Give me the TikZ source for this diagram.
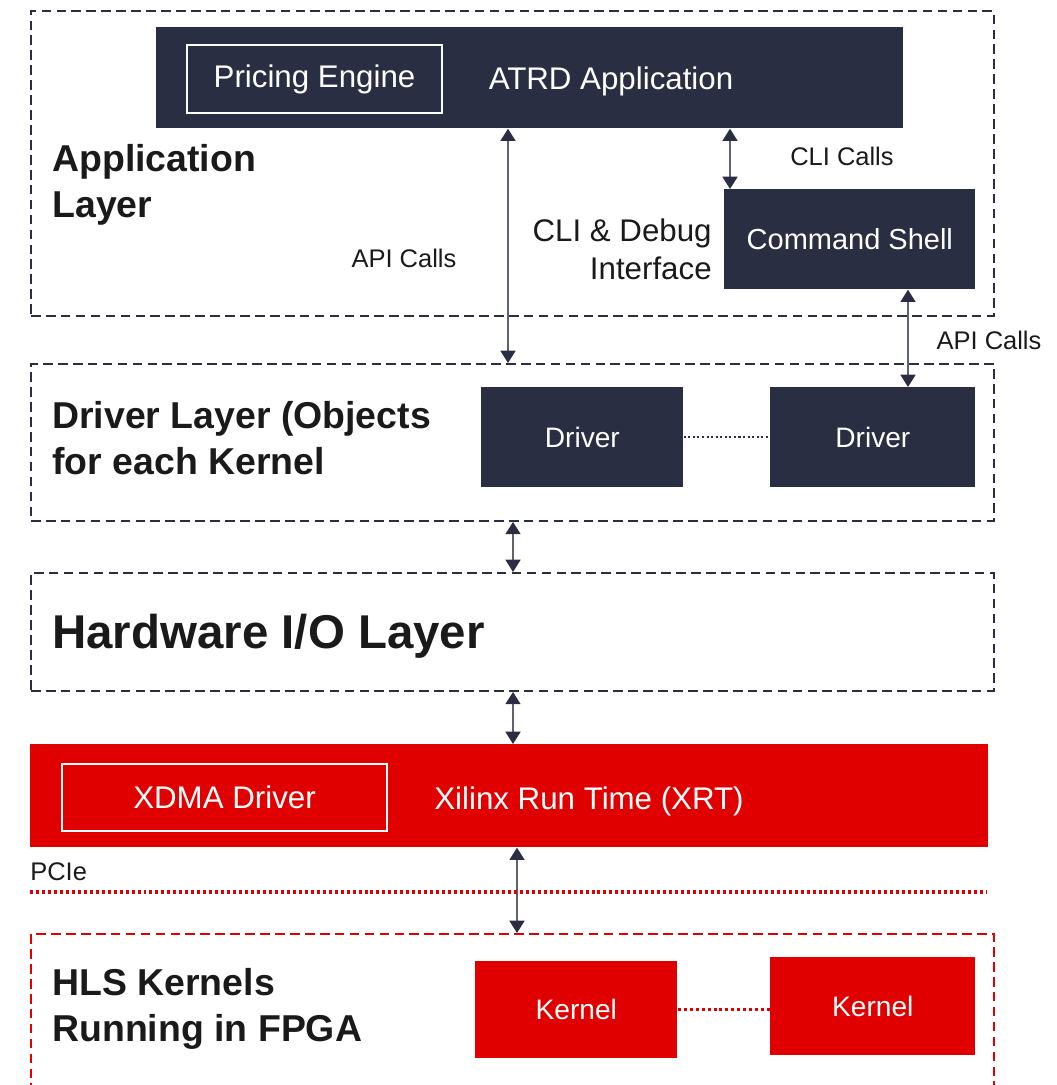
\documentclass[tikz,border=0pt]{standalone}
\usepackage{fontspec}
\setmainfont{Liberation Sans}
\usepackage{tikz}
\usetikzlibrary{arrows.meta,positioning,calc}

\definecolor{navy}{HTML}{2A2E42}
\definecolor{xred}{HTML}{E10000}
\definecolor{shaft}{HTML}{5E6272}
\definecolor{ink}{HTML}{1A1A1A}

\tikzset{
  layer/.style={draw=navy,line width=1.1pt,dash pattern=on 5.5pt off 3pt,anchor=north west,minimum width=19.26cm,inner sep=0pt},
  redlayer/.style={layer,draw=xred},
  darkbox/.style={fill=navy,text=white,anchor=north west,inner sep=0pt,font=\fontsize{16.5}{20}\selectfont},
  redbox/.style={darkbox,fill=xred},
  innerbox/.style={draw=white,line width=1.2pt,text=white,anchor=north west,inner sep=0pt,font=\fontsize{17.8}{21}\selectfont},
  boxtext/.style={text=white,inner sep=0pt,font=\fontsize{17.8}{21}\selectfont},
  title/.style={anchor=west,align=left,inner sep=0pt,text=ink,font=\fontsize{21.3}{26}\selectfont\bfseries},
  lbl/.style={inner sep=0pt,text=ink,font=\fontsize{14.5}{17}\selectfont},
  io/.style={arrows={Triangle[length=7pt,width=8.5pt,color=navy]-Triangle[length=7pt,width=8.5pt,color=navy]},draw=shaft,line width=1.1pt},
  link/.style={draw=navy,line width=1pt,dash pattern=on 1.2pt off 1.4pt},
  redlink/.style={draw=xred,line width=1.8pt,dash pattern=on 1.7pt off 1.7pt}
}

\begin{document}
\begin{tikzpicture}[x=0.02cm,y=-0.02cm]
\useasboundingbox (0,0) rectangle (1056,1085);
\clip (0,0) rectangle (1056,1085);

% application layer
\node[layer,minimum height=6.1cm] (applayer) at (30,10) {};
\node[darkbox,minimum width=14.94cm,minimum height=2.02cm] (atrd) at (156,27) {};
\node[innerbox,minimum width=5.1cm,minimum height=1.36cm] (engine) at (186,44) {\raisebox{-1.5pt}{Pricing Engine}};
\node[boxtext] (atrdtext) at (611,81) {ATRD Application};
\node[darkbox,minimum width=5.02cm,minimum height=2cm] (shell) at (724,189) {Command Shell};
\node[title] (apptitle) at (52,185) {Application\\Layer};
\node[lbl] (apicalls) at (404,258) {API Calls};
\node[lbl] (clicalls) at (842,156) {CLI Calls};
\node[boxtext,text=ink,anchor=east,align=right,font=\fontsize{17.8}{21.5}\selectfont] (cli) at (712,249) {CLI \& Debug\\Interface};
\node[lbl] (apicalls2) at (989,340) {API Calls};

% driver layer
\node[layer,minimum height=3.14cm] (drvlayer) at (30,363) {};
\node[title] (drvtitle) at (52,438) {Driver Layer (Objects\\for each Kernel};
\node[darkbox,font=\fontsize{16}{19}\selectfont,minimum width=4.04cm,minimum height=2cm] (drvA) at (481,387) {Driver};
\node[darkbox,font=\fontsize{16}{19}\selectfont,minimum width=4.1cm,minimum height=2cm] (drvB) at (770,387) {Driver};

% hardware layer
\node[layer,minimum height=2.36cm] (hwlayer) at (30,572) {};
\node[title,font=\fontsize{27}{32}\selectfont\bfseries] (hwtitle) at (52,636) {Hardware I/O Layer};

% xrt
\node[redbox,minimum width=19.16cm,minimum height=2.06cm] (xrt) at (30,744) {};
\node[innerbox,minimum width=6.5cm,minimum height=1.34cm] (xdma) at (61,763) {\raisebox{-1.5pt}{XDMA Driver}};
\node[boxtext] (xrttext) at (589,801) {Xilinx Run Time (XRT)};
\node[lbl,anchor=west] (pcie) at (30,872) {PCIe};
\coordinate (pcieL) at (30,892);
\coordinate (pcieR) at (986,892);

% fpga
\node[redlayer,minimum height=3.6cm] (hlslayer) at (30,933) {};
\node[title] (hlstitle) at (52,1009) {HLS Kernels\\Running in FPGA};
\node[redbox,font=\fontsize{16}{19}\selectfont,minimum width=4.04cm,minimum height=1.94cm] (kerA) at (475,961) {Kernel};
\node[redbox,font=\fontsize{16}{19}\selectfont,minimum width=4.1cm,minimum height=1.96cm] (kerB) at (770,957) {Kernel};

% connectors
\coordinate (apiX) at (508,0);
\coordinate (cliX) at (730,0);
\coordinate (shX) at (908,0);
\coordinate (hwX) at (513,0);
\coordinate (fpX) at (517,0);
\draw[io] (atrd.south -| apiX) -- (drvlayer.north -| apiX);
\draw[io] (atrd.south -| cliX) -- (shell.north -| cliX);
\draw[io] (shell.south -| shX) -- (drvB.north -| shX);
\draw[io] (drvlayer.south -| hwX) -- (hwlayer.north -| hwX);
\draw[io] (hwlayer.south -| hwX) -- (xrt.north -| hwX);
\draw[io] (xrt.south -| fpX) -- (hlslayer.north -| fpX);
\draw[link] (drvA.east) -- (drvB.west);
\draw[redlink] (kerA.east) -- (kerA.east -| kerB.west);
\draw[redlink] (pcieL) -- (pcieR);
\end{tikzpicture}
\end{document}
